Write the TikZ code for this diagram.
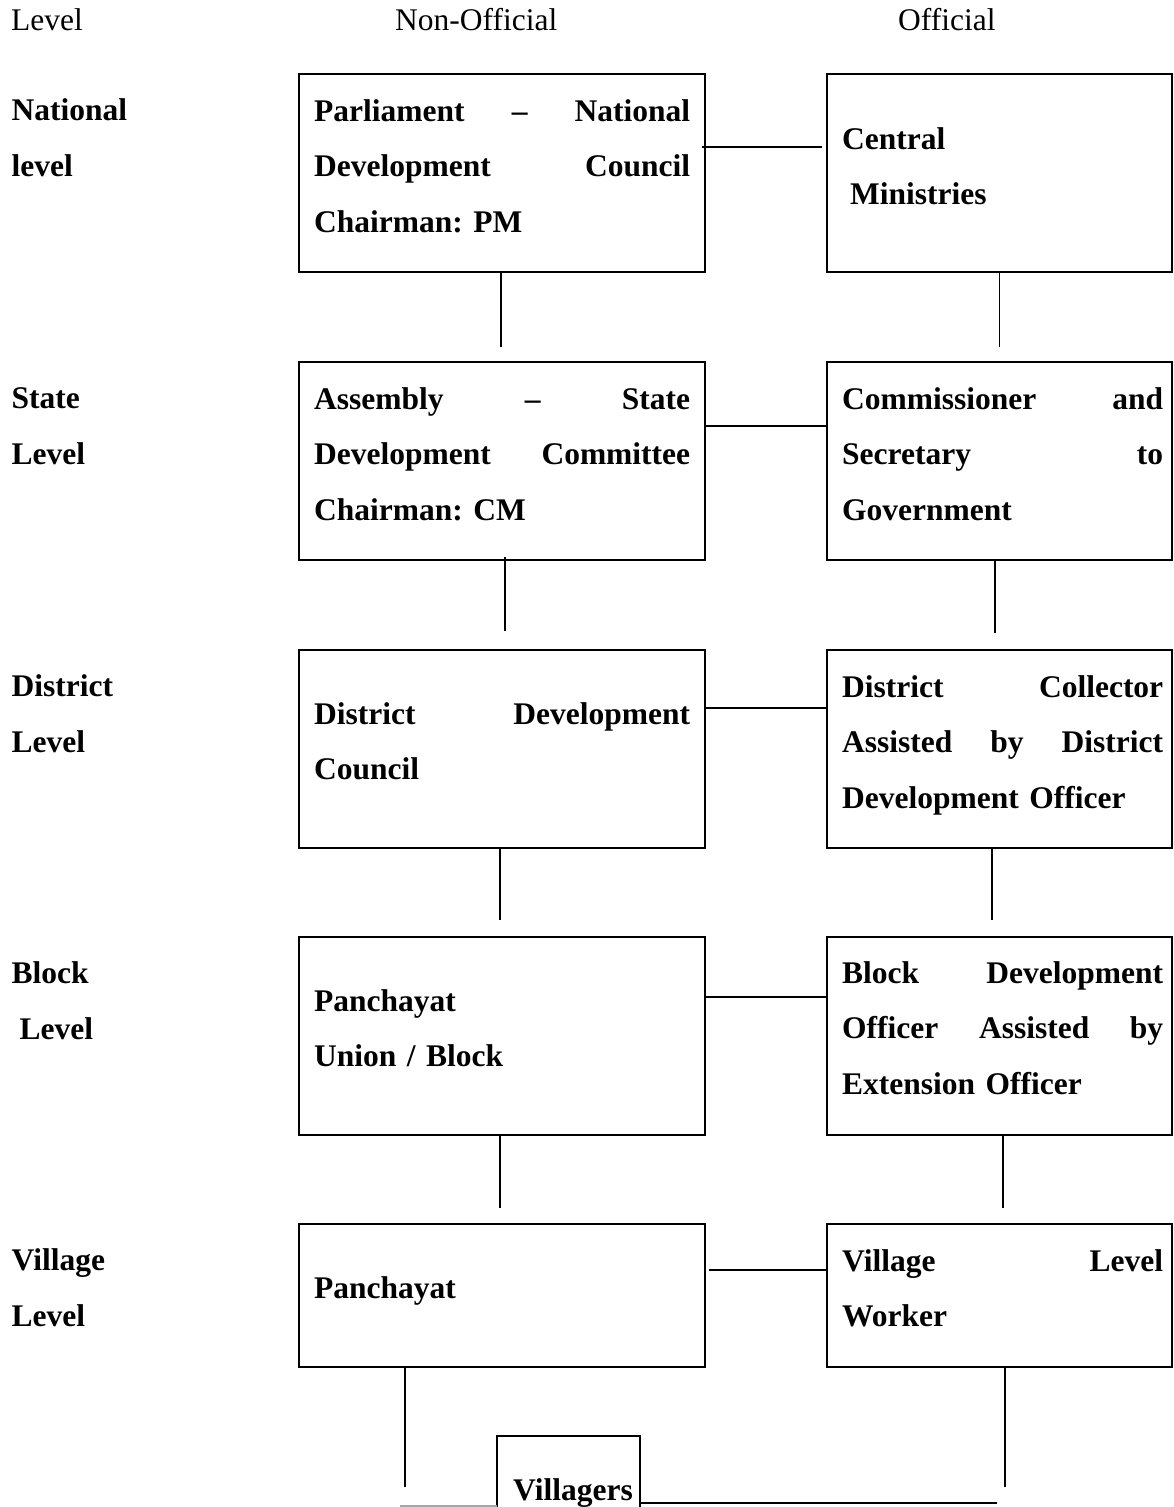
\documentclass[tikz,border=0pt]{standalone}
\usepackage{fontspec}
\setmainfont{Liberation Serif}
\usetikzlibrary{positioning}
\frenchspacing
\newcommand{\docsize}{\fontsize{31.5pt}{55.5pt}\selectfont}
\newcommand{\spread}[1]{\makebox[\hsize][s]{\spaceskip=0pt\xspaceskip=0pt\relax#1}}

\begin{document}
\begin{tikzpicture}[x=1pt,y=1pt]
    \tikzstyle{blk}=[rectangle,draw,line width=2pt,minimum width=406pt,minimum height=198pt,inner sep=0pt,outer sep=0pt]  % left boxes
    \tikzstyle{oblk}=[blk,minimum width=345pt]  % right boxes
    \tikzstyle{txt}=[font=\docsize\bfseries,text width=376pt,inner sep=0pt,anchor=base west,align=left]
    \tikzstyle{otxt}=[txt,text width=321pt]
    \tikzstyle{lvl}=[txt,text width=200pt]
    \tikzstyle{head}=[font=\docsize,inner sep=0pt,anchor=base west]
    \tikzstyle{link}=[line width=1.4pt]

    \useasboundingbox (0,0) rectangle (1173,-1507);
    \clip (0,0) rectangle (1173,-1507);

    % column heads
    \node[head](hl) at (11,-30.5){Level};
    \node[head](hn) at (395,-30.5){Non-Official};
    \node[head](ho) at (898,-30.5){Official};

    % level names
    \node[lvl](l1) at (11.5,-120.5){National\\level};
    \node[lvl](l2) at (11.5,-408.5){State\\Level};
    \node[lvl](l3) at (11.5,-696.5){District\\Level};
    \node[lvl](l4) at (11.5,-983.5){Block\\\hspace*{0.25em}Level};
    \node[lvl](l5) at (11.5,-1270.5){Village\\Level};

    % boxes
    \node[blk,anchor=north west](n1) at (299,-74){};
    \node[blk,below=90pt of n1](n2){};
    \node[blk,below=90pt of n2](n3){};
    \node[blk,below=89pt of n3](n4){};
    \node[blk,below=89pt of n4,minimum height=143pt](n5){};
    \node[oblk,right=122pt of n1](o1){};
    \node[oblk,right=122pt of n2](o2){};
    \node[oblk,right=122pt of n3](o3){};
    \node[oblk,right=122pt of n4](o4){};
    \node[oblk,right=122pt of n5,minimum height=143pt](o5){};
    \node[draw,line width=2pt,minimum width=143pt,minimum height=150pt,outer sep=0pt,anchor=north west](v) at (497,-1436){};

    % texts
    \node[txt](n1t) at ([shift={(15,-47)}]n1.north west){\spread{Parliament – National}\\\spread{Development Council}\\Chairman: PM};
    \node[txt](n2t) at ([shift={(15,-47)}]n2.north west){\spread{Assembly – State}\\\spread{Development Committee}\\Chairman: CM};
    \node[txt](n3t) at ([shift={(15,-74)}]n3.north west){\spread{District Development}\\Council};
    \node[txt](n4t) at ([shift={(15,-74)}]n4.north west){Panchayat\\Union / Block};
    \node[txt](n5t) at ([shift={(15,-74)}]n5.north west){Panchayat};
    \node[otxt](o1t) at ([shift={(15,-75)}]o1.north west){Central\\\hspace*{0.25em}Ministries};
    \node[otxt](o2t) at ([shift={(15,-47)}]o2.north west){\spread{Commissioner and}\\\spread{Secretary to}\\Government};
    \node[otxt](o3t) at ([shift={(15,-47)}]o3.north west){\spread{District Collector}\\\spread{Assisted by District}\\Development Officer};
    \node[otxt](o4t) at ([shift={(15,-46)}]o4.north west){\spread{Block Development}\\\spread{Officer Assisted by}\\Extension Officer};
    \node[otxt](o5t) at ([shift={(15,-47)}]o5.north west){\spread{Village Level}\\Worker};
    \node[head,font=\docsize\bfseries](vt) at ([shift={(16,-64)}]v.north west){Villagers};

    % free ends at the bottom
    \coordinate(nv) at (405,-1487);
    \coordinate(ov) at (1005,-1487);
    \coordinate(vr) at (997,-1503);
    \coordinate(vl) at (400,-1506);

    % lines across
    \draw[link]([shift={(-3,-73)}]n1.north east)--([shift={(-5,-73)}]o1.north west);
    \draw[link]([yshift=-64]n2.north east)--([yshift=-64]o2.north west);
    \draw[link]([yshift=-58]n3.north east)--([yshift=-58]o3.north west);
    \draw[link]([yshift=-60]n4.north east)--([yshift=-60]o4.north west);
    \draw[link]([shift={(4,-46)}]n5.north east)--([yshift=-46]o5.north west);
    % lines down
    \draw[link]([xshift=-1]n1.south)--([xshift=-1,yshift=15]n2.north);
    \draw[link](o1.south)--([yshift=15]o2.north);
    \draw[link]([shift={(3,3)}]n2.south)--([shift={(3,19)}]n3.north);
    \draw[link]([xshift=-4.5]o2.south)--([shift={(-4.5,17)}]o3.north);
    \draw[link]([xshift=-2]n3.south)--([shift={(-2,17)}]n4.north);
    \draw[link]([xshift=-7.5]o3.south)--([shift={(-7.5,17)}]o4.north);
    \draw[link]([xshift=-2]n4.south)--([shift={(-2,16)}]n5.north);
    \draw[link]([xshift=3.5]o4.south)--([shift={(3.5,16)}]o5.north);
    \draw[link](n5.south -| nv)--(nv);
    \draw[link](o5.south -| ov)--(ov);
    \draw[link](v.east |- vr)--(vr);
    \draw[link,gray!70](vl)--(vl -| v.west);
\end{tikzpicture}
\end{document}
